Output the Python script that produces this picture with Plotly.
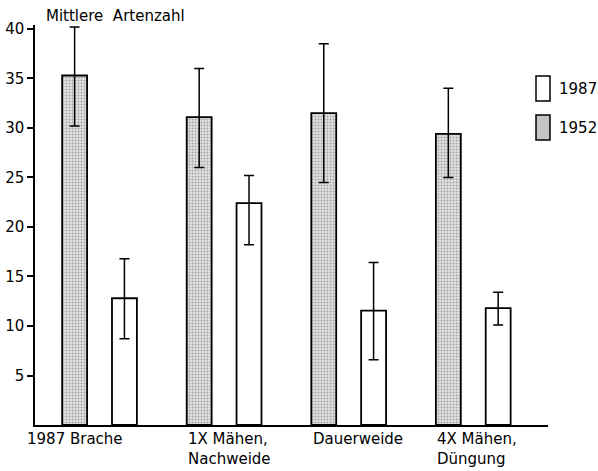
import plotly.graph_objects as go

categories = ["1987 Brache", "1X Mähen,<br>Nachweide", "Dauerweide", "4X Mähen,<br>Düngung"]
vals_1952 = [35.3, 31.1, 31.5, 29.4]
err_up_1952 = [4.9, 4.9, 7.0, 4.6]
err_dn_1952 = [5.1, 5.1, 7.0, 4.4]
vals_1987 = [12.8, 22.4, 11.55, 11.8]
err_up_1987 = [4.0, 2.8, 4.85, 1.6]
err_dn_1987 = [4.1, 4.2, 4.95, 1.7]
ytick_vals = [5, 10, 15, 20, 25, 30, 35, 40]
label_shift = [-75, -38, -38, -38]
legend_names = ["1987", "1952"]
legend_fill = ["white", "#c4c4c4"]

FONT = "DejaVu Sans"
W, H = 598, 471
ML, MR, MT, MB = 35, 0, 25, 46
PW, PH = W - ML - MR, H - MT - MB
idx = list(range(len(categories)))

def px_x(p):
    return (p - ML) / PW

def px_y(p):
    return (H - MB - p) / PH

fig = go.Figure()
fig.add_trace(go.Bar(
    x=idx, y=vals_1952, name="1952", showlegend=False,
    marker=dict(color="#c4c4c4", line=dict(color="black", width=1.8),
                pattern=dict(shape=".", fgcolor="#666666", bgcolor="#e2e2e2", size=3, solidity=0.35)),
    error_y=dict(type="data", symmetric=False, array=err_up_1952, arrayminus=err_dn_1952,
                 color="black", thickness=1.5, width=5),
))
fig.add_trace(go.Bar(
    x=idx, y=vals_1987, name="1987", showlegend=False,
    marker=dict(color="white", line=dict(color="black", width=1.8)),
    error_y=dict(type="data", symmetric=False, array=err_up_1987, arrayminus=err_dn_1987,
                 color="black", thickness=1.5, width=5),
))

for i, (c, s) in enumerate(zip(categories, label_shift)):
    fig.add_annotation(x=i, y=0, xref="x", yref="y", text=c, showarrow=False,
                       xanchor="left", yanchor="top", align="left", xshift=s, yshift=-3,
                       font=dict(family=FONT, size=15, color="black"))

fig.add_annotation(x=px_x(44), y=px_y(16), xref="paper", yref="paper", text="Mittlere  Artenzahl",
                   showarrow=False, xanchor="left", yanchor="middle",
                   font=dict(family=FONT, size=15, color="black"))

# manual legend (tall swatches as in the original)
legend_top = [76, 115]
for name, fill, top in zip(legend_names, legend_fill, legend_top):
    fig.add_shape(type="rect", xref="paper", yref="paper",
                  x0=px_x(536), x1=px_x(550), y0=px_y(top + 25), y1=px_y(top),
                  fillcolor=fill, line=dict(color="black", width=1.5))
    fig.add_annotation(x=px_x(557), y=px_y(top + 13), xref="paper", yref="paper", text=name,
                       showarrow=False, xanchor="left", yanchor="middle",
                       font=dict(family=FONT, size=15, color="black"))

fig.update_layout(
    width=W, height=H,
    margin=dict(l=ML, r=MR, t=MT, b=MB, autoexpand=False),
    paper_bgcolor="white", plot_bgcolor="white",
    barmode="group", bargap=0.2, bargroupgap=0.5,
    font=dict(family=FONT, size=15, color="black"),
    showlegend=False,
    xaxis=dict(domain=[0, (548 - ML) / PW], range=[-0.518, 3.60], showticklabels=False, ticks="",
               showgrid=False, zeroline=False, showline=True, linecolor="black", linewidth=1.5),
    yaxis=dict(range=[0, 40.4], tickvals=ytick_vals, ticks="outside", ticklen=6,
               tickcolor="black", tickwidth=1.5, showgrid=False, zeroline=False,
               showline=True, linecolor="black", linewidth=1.5,
               tickfont=dict(family=FONT, size=15)),
)

fig.write_html("out.html")
